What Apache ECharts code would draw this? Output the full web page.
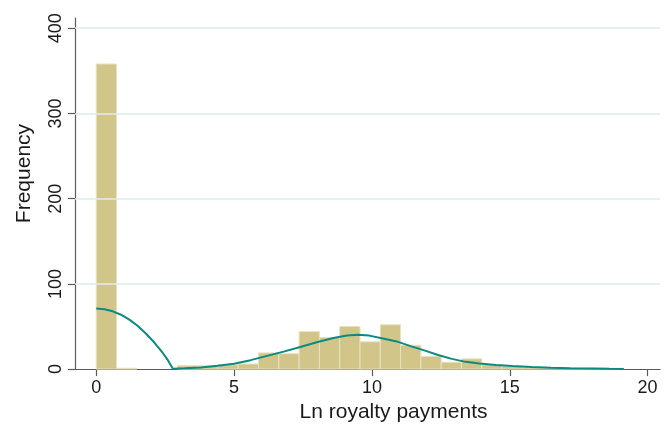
<!DOCTYPE html>
<html>
<head>
<meta charset="utf-8">
<script src="https://cdn.jsdelivr.net/npm/echarts@6/dist/echarts.min.js"></script>
<style>
  html, body { margin: 0; padding: 0; background: #ffffff; }
  #chart { width: 672px; height: 428px; }
</style>
</head>
<body>
<div id="chart"></div>
<script>
// Histogram of log royalty payments, frequency scale, with a kernel density overlay.
const binStart = 0;
const binWidth = 0.736;
const binCounts = [358, 1, 0, 0, 4, 4, 5, 6, 19, 18, 44, 37, 50, 32, 52, 28, 15, 8, 12, 5, 3, 2, 2, 1, 1, 1];

// Kernel density estimate, rescaled to frequencies
const densityX = [0, 0.3, 0.6, 0.9, 1.2, 1.5, 1.8, 2.1, 2.4, 2.6, 2.78,
  3.2, 3.8, 4.4, 5.0, 5.6, 6.2, 6.8, 7.4, 8.0, 8.6, 9.1, 9.5, 9.9, 10.4, 10.9,
  11.4, 11.9, 12.4, 12.9, 13.4, 13.9, 14.5, 15.1, 15.8, 16.5, 17.2, 18.0, 18.6, 19.14];
const densityY = [71, 70.2, 67.8, 63.8, 58, 50.8, 41.8, 31.5, 19.5, 10.5, 0.4,
  0.9, 2, 3.8, 6.3, 10.5, 15.5, 20.5, 26, 31.5, 36.5, 39.5, 40.3, 39.3, 36, 32.5,
  27, 22, 16.5, 12, 8.5, 6.5, 4.8, 3.6, 2.4, 1.5, 1, 0.6, 0.3, 0.1];

const xTickValues = [0, 5, 10, 15, 20];
const yTickValues = [0, 100, 200, 300, 400];
const yGridValues = [100, 200, 300, 400];

const binData = binCounts
  .map((c, i) => [binStart + i * binWidth, binStart + (i + 1) * binWidth, c])
  .filter(d => d[2] > 0);
const densityData = densityX.map((x, i) => [x, densityY[i]]);

const FONT = 'Liberation Sans, Arial, Helvetica, sans-serif';
const AXIS_COLOR = '#5a5a5a';

const chart = echarts.init(document.getElementById('chart'), null, { renderer: 'canvas' });

chart.setOption({
  animation: false,
  backgroundColor: '#ffffff',
  grid: { left: 75, right: 12, top: 18, bottom: 55, containLabel: false },
  xAxis: {
    type: 'value',
    min: -0.77,
    max: 20.45,
    name: 'Ln royalty payments',
    nameLocation: 'middle',
    nameGap: 29,
    nameTextStyle: { fontFamily: FONT, fontSize: 21, color: '#1a1a1a', padding: [0, 0, 0, 52] },
    axisLine: { show: true, onZero: false, lineStyle: { color: AXIS_COLOR, width: 1.2 } },
    axisTick: { show: true, length: 7, customValues: xTickValues, lineStyle: { color: AXIS_COLOR, width: 1.2 } },
    axisLabel: { customValues: xTickValues, margin: 10, fontFamily: FONT, fontSize: 18, color: '#1a1a1a' },
    splitLine: { show: false }
  },
  yAxis: {
    type: 'value',
    min: 0,
    max: 412,
    name: 'Frequency',
    nameLocation: 'middle',
    nameRotate: 90,
    nameGap: 40,
    nameTextStyle: { fontFamily: FONT, fontSize: 21, color: '#1a1a1a', padding: [0, 0, 0, 40] },
    axisLine: { show: true, onZero: false, lineStyle: { color: AXIS_COLOR, width: 1.2 } },
    axisTick: { show: true, length: 7, customValues: yTickValues, lineStyle: { color: AXIS_COLOR, width: 1.2 } },
    axisLabel: { customValues: yTickValues, rotate: 90, margin: 10, fontFamily: FONT, fontSize: 18, color: '#1a1a1a' },
    splitLine: { show: false }
  },
  series: [
    {
      // horizontal gridlines
      type: 'line',
      data: [],
      z: 1,
      silent: true,
      markLine: {
        silent: true,
        symbol: 'none',
        label: { show: false },
        lineStyle: { color: '#dcecec', width: 1.5, type: 'solid' },
        data: yGridValues.map(v => ({ yAxis: v }))
      }
    },
    {
      type: 'custom',
      z: 2,
      data: binData,
      encode: { x: [0, 1], y: 2 },
      renderItem: function (params, api) {
        const x0 = api.value(0), x1 = api.value(1), c = api.value(2);
        const top = api.coord([x0, c]);
        const bottom = api.coord([x1, 0]);
        return {
          type: 'rect',
          shape: { x: top[0], y: top[1], width: bottom[0] - top[0], height: bottom[1] - top[1] },
          style: { fill: '#d2c58a', stroke: '#e8e1bd', lineWidth: 1 }
        };
      }
    },
    {
      type: 'line',
      z: 3,
      data: densityData,
      showSymbol: false,
      smooth: false,
      lineStyle: { color: '#0a8a80', width: 2 }
    }
  ]
});
</script>
</body>
</html>
